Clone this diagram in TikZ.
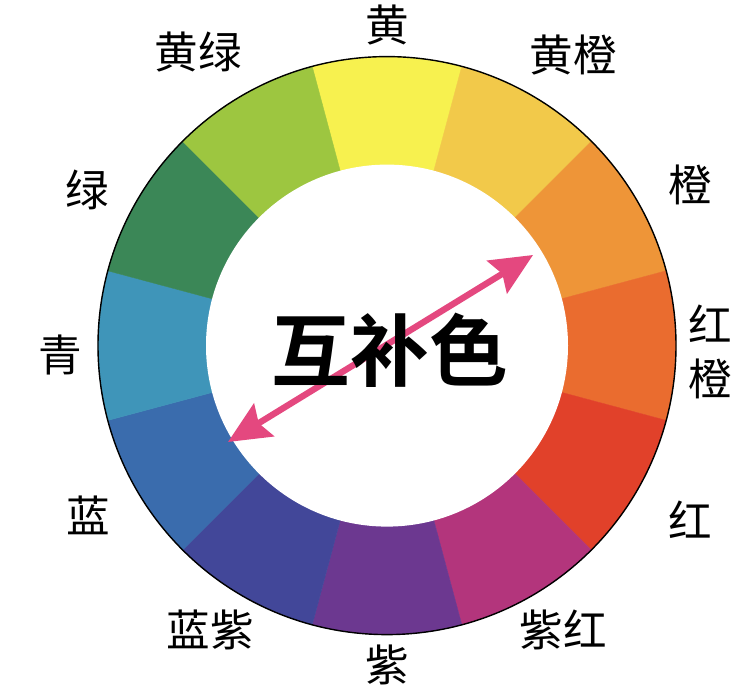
\documentclass[tikz,border=0pt]{standalone}
\usepackage{fontspec}
\usepackage{tikz}
\usetikzlibrary{arrows.meta,calc}
\newfontfamily\cjk{Noto Sans CJK SC}[BoldFont=* Bold]
\definecolor{WhYellow}{HTML}{F7F14F}
\definecolor{WhYellowOrange}{HTML}{F2C94A}
\definecolor{WhOrange}{HTML}{EE9538}
\definecolor{WhRedOrange}{HTML}{EA6C2F}
\definecolor{WhRed}{HTML}{E1412A}
\definecolor{WhMagenta}{HTML}{B3357C}
\definecolor{WhPurple}{HTML}{6C3890}
\definecolor{WhBlueViolet}{HTML}{424799}
\definecolor{WhBlue}{HTML}{3A6CAD}
\definecolor{WhCyan}{HTML}{3F95B9}
\definecolor{WhGreen}{HTML}{3B8757}
\definecolor{WhYellowGreen}{HTML}{9DC640}
\definecolor{ArrPink}{HTML}{E4487F}

\begin{document}
\begin{tikzpicture}[font=\cjk,
  lbl/.style={inner sep=0pt,font=\cjk\fontsize{31}{39}\selectfont,align=center},
  pairarrow/.style={ArrPink,line width=4.5pt,
    {Stealth[length=1.05cm,width=0.95cm,inset=0.15cm]}-{Stealth[length=1.05cm,width=0.95cm,inset=0.15cm]}}]
  \useasboundingbox[fill=white] (0,0) rectangle (18.7,-17.35);
  \coordinate (ctr) at (9.675,-8.64);
  % colour wheel
  \foreach \a/\c in {90/WhYellow,60/WhYellowOrange,30/WhOrange,0/WhRedOrange,-30/WhRed,-60/WhMagenta,
                     -90/WhPurple,-120/WhBlueViolet,-150/WhBlue,180/WhCyan,150/WhGreen,120/WhYellowGreen} {
    \filldraw[fill=\c,draw=\c,line width=0.3pt] (ctr) -- ++({\a-15}:7.225)
      arc[start angle={\a-15},end angle={\a+15},radius=7.225] -- cycle;
  }
  \fill[white] (ctr) circle (4.525);
  \draw[line width=1pt] (ctr) circle (7.225);
  % labels
  \foreach \x/\y/\nm/\txt in {9.675/-0.625/huang/黄,14.325/-1.375/huangcheng/黄橙,17.25/-4.625/cheng/橙,
                              17.25/-13.0/hong/红,14.075/-15.75/zihong/紫红,9.675/-16.625/zi/紫,
                              5.25/-15.75/lanzi/蓝紫,2.2/-12.875/lan/蓝,1.5/-8.875/qing/青,
                              2.175/-4.75/lv/绿,4.95/-1.3/huanglv/黄绿} {
    \node[lbl] (\nm) at (\x,\y) {\txt};
  }
  \node[lbl] (hongcheng) at (17.75,-8.8) {红\\橙};
  % complementary pair
  \coordinate (arrTail) at (5.7,-11.05);
  \coordinate (arrHead) at (13.325,-6.375);
  \draw[pairarrow] (arrTail) -- (arrHead);
  \node[font=\cjk\bfseries\fontsize{56}{60}\selectfont] (hubuse) at (9.75,-8.75) {互补色};
\end{tikzpicture}
\end{document}
